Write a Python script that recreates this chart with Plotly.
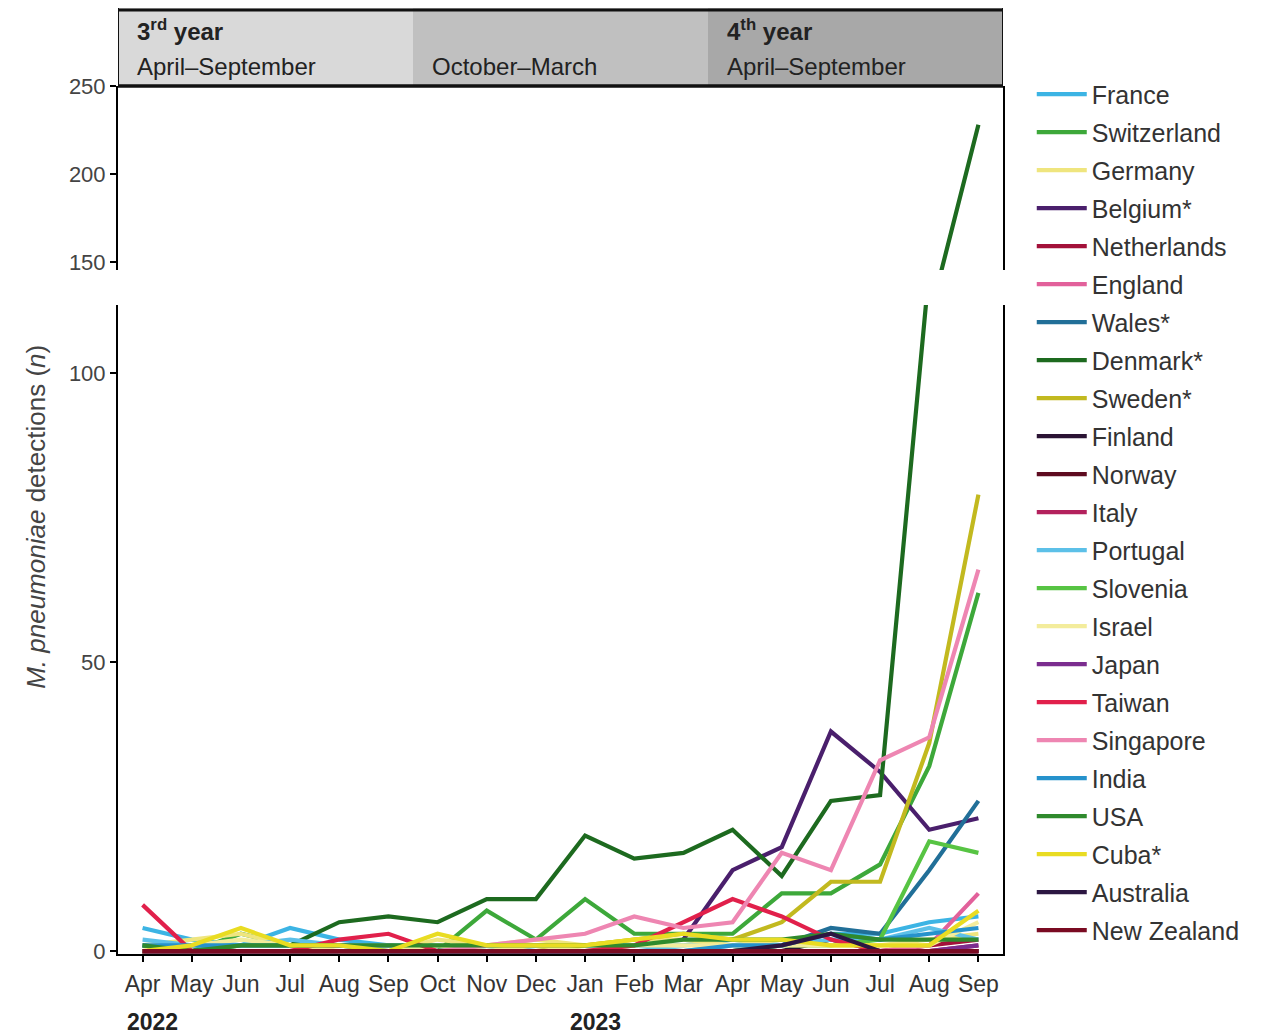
import plotly.graph_objects as go

# Monthly M. pneumoniae detections, April 2022 - September 2023
months = ["Apr", "May", "Jun", "Jul", "Aug", "Sep", "Oct", "Nov", "Dec",
          "Jan", "Feb", "Mar", "Apr", "May", "Jun", "Jul", "Aug", "Sep"]

countries = ["France", "Switzerland", "Germany", "Belgium*", "Netherlands",
             "England", "Wales*", "Denmark*", "Sweden*", "Finland", "Norway",
             "Italy", "Portugal", "Slovenia", "Israel", "Japan", "Taiwan",
             "Singapore", "India", "USA", "Cuba*", "Australia", "New Zealand"]

colors = ["#3cb4e4", "#3da83a", "#efe57e", "#4a1f6c", "#a3113a",
          "#e2619b", "#216f98", "#1d6a1f", "#c2b91f", "#2b1434", "#5e0b20",
          "#b3215d", "#5cc0e8", "#57c443", "#f3ec9c", "#7b2d8f", "#e1204b",
          "#ee86b2", "#2692cc", "#2f8a2d", "#e9dc22", "#2c1742", "#7a0b22"]

france      = [4, 2, 1, 4, 2, 1, 1, 0, 1, 1, 1, 1, 2, 1, 3, 3, 5, 6]
switzerland = [1, 0, 3, 1, 1, 1, 0, 7, 2, 9, 3, 3, 3, 10, 10, 15, 32, 62]
germany     = [1, 2, 3, 1, 1, 0, 2, 1, 2, 1, 2, 2, 1, 2, 1, 1, 2, 3]
belgium     = [None, None, None, None, None, None, None, None, None,
               None, None, 2, 14, 18, 38, 31, 21, 23]
netherlands = [0, 0, 0, 0, 0, 0, 0, 0, 0, 0, 0, 0, 0, 0, 0, 0, 1, 2]
england     = [0, 0, 0, 0, 1, 1, 0, 0, 0, 0, 0, 0, 0, 0, 0, 0, 1, 10]
wales       = [0, 0, 0, 0, 0, 0, 0, 0, 0, 0, 0, 0, 0, 1, 4, 3, 14, 26]
denmark     = [1, 0, 1, 1, 5, 6, 5, 9, 9, 20, 16, 17, 21, 13, 26, 27, 118, 228]
sweden      = [0, 0, 0, 0, 0, 0, 0, 0, 0, 1, 2, 3, 2, 5, 12, 12, 36, 79]
finland     = [0, 0, 0, 0, 0, 0, 0, 0, 0, 0, 0, 0, 0, 0, 2, 0, 0, 0]
norway      = [0, 0, 0, 0, 0, 0, 0, 0, 0, 0, 0, 0, 0, 0, 0, 0, 0, 0]
italy       = [0, 0, 0, 0, 0, 0, 0, 0, 0, 0, 0, 0, 0, 0, 0, 0, 0, 1]
portugal    = [2, 1, 1, 2, 1, 1, 0, 1, 0, 0, 1, 0, 1, 1, 2, 2, 4, 2]
slovenia    = [0, 0, 0, 0, 0, 0, 0, 0, 0, 0, 0, 0, 0, 1, 1, 2, 19, 17]
israel      = [0, 1, 2, 1, 0, 0, 1, 0, 1, 0, 1, 1, 1, 1, 1, 1, 1, 5]
japan       = [0, 0, 0, 0, 0, 0, 0, 0, 0, 0, 0, 0, 0, 0, 0, 0, 0, 1]
taiwan      = [8, 0, 0, 0, 2, 3, 0, 0, 0, 0, 1, 5, 9, 6, 2, 0, 0, 0]
singapore   = [0, 0, 0, 0, 0, 0, 0, 1, 2, 3, 6, 4, 5, 17, 14, 33, 37, 66]
india       = [1, 1, 1, 1, 1, 0, 0, 0, 0, 0, 0, 0, 1, 1, 3, 2, 3, 4]
usa         = [1, 0, 1, 1, 1, 1, 1, 1, 1, 1, 1, 2, 2, 2, 3, 2, 2, 2]
cuba        = [0, 1, 4, 1, 1, 0, 3, 1, 1, 1, 2, 3, 2, 2, 1, 1, 1, 7]
australia   = [0, 0, 0, 0, 0, 0, 0, 0, 0, 0, 0, 0, 0, 1, 3, 0, 0, 0]
new_zealand = [0, 0, 0, 0, 0, 0, 0, 0, 0, 0, 0, 0, 0, 0, 0, 0, 0, 0]

series = [france, switzerland, germany, belgium, netherlands, england, wales,
          denmark, sweden, finland, norway, italy, portugal, slovenia, israel,
          japan, taiwan, singapore, india, usa, cuba, australia, new_zealand]

# Seasonal bands shown above the plot
periods = [(-0.5, 5.5, "#d9d9d9", "<b>3<sup>rd</sup> year</b>", "April–September"),
           (5.5, 11.5, "#c0c0c0", None, "October–March"),
           (11.5, 17.5, "#a8a8a8", "<b>4<sup>th</sup> year</b>", "April–September")]
years = [("2022", -0.35), ("2023", 8.65)]

FONT = "Liberation Sans, Arial, sans-serif"
x = list(range(len(months)))

fig = go.Figure()
for name, color, vals in zip(countries, colors, series):
    # lower (unbroken) panel, carries the legend entry
    fig.add_trace(go.Scatter(x=x, y=vals, mode="lines", name=name,
                             legendgroup=name, line=dict(color=color, width=4.2),
                             xaxis="x", yaxis="y", hoverinfo="name+y"))
    # upper panel above the axis break
    fig.add_trace(go.Scatter(x=x, y=vals, mode="lines", name=name,
                             legendgroup=name, showlegend=False,
                             line=dict(color=color, width=4.2),
                             xaxis="x", yaxis="y2", hoverinfo="name+y"))

axis_common = dict(showline=True, linecolor="black", linewidth=2,
                   ticks="outside", ticklen=6, tickwidth=2, tickcolor="black",
                   showgrid=False, zeroline=False,
                   tickfont=dict(family=FONT, size=22, color="#444"))

# Header bands and borders
HB = 0.9175
shapes = []
for x0, x1, fill, _, _ in periods:
    shapes.append(dict(type="rect", xref="x", yref="paper", x0=x0, x1=x1,
                       y0=HB, y1=1.0, fillcolor=fill, line=dict(width=0),
                       layer="below"))
shapes += [
    dict(type="line", xref="x", yref="paper", x0=-0.5, x1=17.5, y0=0.998, y1=0.998,
         line=dict(color="#111", width=3)),
    dict(type="line", xref="x", yref="paper", x0=-0.5, x1=17.5, y0=HB, y1=HB,
         line=dict(color="#111", width=3.5)),
    dict(type="line", xref="x", yref="paper", x0=-0.5, x1=-0.5, y0=HB, y1=1.0,
         line=dict(color="#111", width=2)),
    dict(type="line", xref="x", yref="paper", x0=17.5, x1=17.5, y0=HB, y1=1.0,
         line=dict(color="#111", width=2)),
]

annotations = []
for x0, x1, fill, title, sub in periods:
    if title:
        annotations.append(dict(xref="x", yref="paper", x=x0 + 0.35, y=0.977,
                                text=title, showarrow=False, xanchor="left",
                                yanchor="middle",
                                font=dict(family=FONT, size=24, color="#222")))
    annotations.append(dict(xref="x", yref="paper", x=x0 + 0.35, y=0.938,
                            text=sub, showarrow=False, xanchor="left",
                            yanchor="middle",
                            font=dict(family=FONT, size=24, color="#222")))
for label, xpos in years:
    annotations.append(dict(xref="x", yref="paper", x=xpos, y=-0.072,
                            text=f"<b>{label}</b>", showarrow=False,
                            xanchor="left", yanchor="middle",
                            font=dict(family=FONT, size=23, color="#222")))
annotations.append(dict(xref="paper", yref="paper", x=-0.112, y=0.462,
                        text="<i>M. pneumoniae</i> detections (<i>n</i>)",
                        textangle=-90, showarrow=False,
                        font=dict(family=FONT, size=26, color="#444")))

fig.update_layout(
    width=1263, height=1036,
    margin=dict(l=118, r=260, t=8, b=82, autoexpand=False),
    paper_bgcolor="white", plot_bgcolor="white",
    showlegend=True,
    legend=dict(x=1.0325, y=0.933, xanchor="left", yanchor="top",
                traceorder="grouped", tracegroupgap=2.5, itemwidth=50,
                font=dict(family=FONT, size=25, color="#333"),
                bgcolor="rgba(0,0,0,0)"),
    xaxis=dict(range=[-0.5, 17.5], tickmode="array", tickvals=x,
               ticktext=months, anchor="y", ticklabelstandoff=2,
               **{**axis_common, "tickfont": dict(family=FONT, size=23, color="#333")}),
    yaxis=dict(domain=[0, 0.686], range=[-0.5, 111.8], tickvals=[0, 50, 100],
               mirror=True, layer="below traces", **axis_common),
    yaxis2=dict(domain=[0.723, HB], range=[145.45, 250],
                tickvals=[150, 200, 250], mirror=True, anchor="x",
                **axis_common),
    shapes=shapes,
    annotations=annotations,
)

fig.write_html("out.html")
